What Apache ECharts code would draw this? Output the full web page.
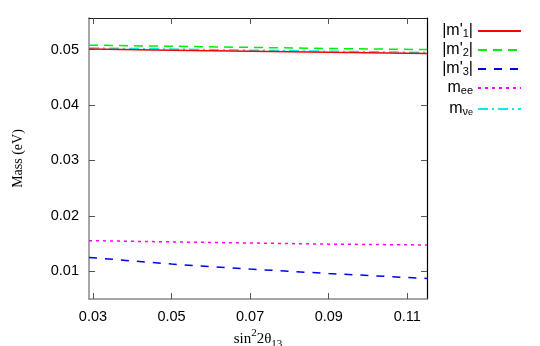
<!DOCTYPE html>
<html>
<head>
<meta charset="utf-8">
<script src="https://cdn.jsdelivr.net/npm/echarts@6/dist/echarts.min.js"></script>
<style>
  html, body { margin: 0; padding: 0; background: #fff; }
  #chart { width: 540px; height: 346px; }
</style>
</head>
<body>
<div id="chart"></div>
<script>
// sin^2(2 theta13) sample points
const xs = [0.029, 0.05, 0.07, 0.09, 0.115]
// masses in eV
const m1 = [0.0501, 0.0499, 0.0497, 0.0495, 0.0493]
const m2 = [0.0508, 0.0506, 0.0504, 0.0502, 0.0500]
const m3 = [0.0125, 0.0113, 0.0104, 0.0096, 0.0087]
const mee = [0.01553, 0.0153, 0.0151, 0.0149, 0.01474]
const mnue = [0.0503, 0.0501, 0.0499, 0.0497, 0.0495]
const xTicks = [0.03, 0.05, 0.07, 0.09, 0.11]
const yTicks = [0.01, 0.02, 0.03, 0.04, 0.05]

const pts = arr => xs.map((x, i) => [x, arr[i]])
const chart = echarts.init(document.getElementById('chart'))

const mkLine = (name, data, color, type, z) => ({
  name, type: 'line', data: pts(data), symbol: 'none', z,
  lineStyle: { color, width: 1.5, type },
  itemStyle: { color }
})

chart.setOption({
  animation: false,
  grid: { left: 89, right: 113, top: 18, bottom: 47, outerBoundsMode: 'none' },
  legend: {
    orient: 'vertical', right: 18, top: 21, align: 'right', padding: 0,
    itemWidth: 43, itemHeight: 14, itemGap: 1,
    itemStyle: { opacity: 0 },
    data: ['m1', 'm2', 'm3', 'mee', 'mnue'],
    formatter: n => ({
      m1: "{m||m'}{s|1}{m||}",
      m2: "{m||m'}{s|2}{m||}",
      m3: "{m||m'}{s|3}{m||}",
      mee: '{m|m}{s|ee}',
      mnue: '{m|m}{s|ν}{ss|e}'
    })[n],
    textStyle: {
      fontFamily: 'Liberation Sans', color: '#000',
      rich: {
        m: { fontSize: 16, fontFamily: 'Liberation Sans', lineHeight: 16, verticalAlign: 'top' },
        s: { fontSize: 11, fontFamily: 'Liberation Sans', verticalAlign: 'bottom', lineHeight: 12, padding: [7, 0, 0, 0] },
        ss: { fontSize: 9, fontFamily: 'Liberation Sans', verticalAlign: 'bottom', lineHeight: 8, padding: [11, 0, 0, 0] }
      }
    }
  },
  xAxis: [{
    type: 'value', min: 0.029, max: 0.115,
    name: '{t|sin}{sup|2}{t|2θ}{sub|13}', nameLocation: 'middle', nameGap: 29,
    nameMoveOverlap: false,
    nameTextStyle: {
      color: '#000',
      rich: {
        t: { fontFamily: 'Liberation Serif', fontSize: 15, verticalAlign: 'middle', lineHeight: 22 },
        sup: { fontFamily: 'Liberation Serif', fontSize: 11, verticalAlign: 'top', lineHeight: 11 },
        sub: { fontFamily: 'Liberation Serif', fontSize: 11, verticalAlign: 'bottom', lineHeight: 11 }
      }
    },
    axisLine: { onZero: false, lineStyle: { color: '#888', width: 1.5 } },
    axisTick: { inside: true, length: 6, customValues: xTicks, lineStyle: { color: '#555' } },
    axisLabel: { customValues: xTicks, formatter: v => v.toFixed(2), color: '#000', fontSize: 14.5, fontFamily: 'Liberation Sans', margin: 10 },
    splitLine: { show: false }
  }, {
    type: 'value', position: 'top', min: 0.029, max: 0.115,
    axisLine: { onZero: false, lineStyle: { color: '#222', width: 1 } },
    axisTick: { inside: true, length: 6, customValues: xTicks, lineStyle: { color: '#555' } },
    axisLabel: { show: false }, splitLine: { show: false }
  }],
  yAxis: [{
    type: 'value', min: 0.005, max: 0.0557,
    name: 'Mass (eV)', nameLocation: 'middle', nameGap: 64,
    nameTextStyle: { fontFamily: 'Liberation Serif', fontSize: 14, color: '#000' },
    axisLine: { show: true, onZero: false, lineStyle: { color: '#888', width: 1.5 } },
    axisTick: { show: true, inside: true, length: 6, customValues: yTicks, lineStyle: { color: '#555' } },
    axisLabel: { customValues: yTicks, formatter: v => v.toFixed(2), color: '#000', fontSize: 14.5, fontFamily: 'Liberation Sans', margin: 10 },
    splitLine: { show: false }
  }, {
    type: 'value', position: 'right', min: 0.005, max: 0.0557,
    axisLine: { show: true, onZero: false, lineStyle: { color: '#000', width: 1.2 } },
    axisTick: { show: true, inside: true, length: 6, customValues: yTicks, lineStyle: { color: '#555' } },
    axisLabel: { show: false }, splitLine: { show: false }
  }],
  series: [
    mkLine('m1', m1, '#ff0000', 'solid', 5),
    mkLine('m2', m2, '#00ee00', [9, 6], 3),
    mkLine('m3', m3, '#0000ee', [8, 8], 3),
    mkLine('mee', mee, '#ff00ff', [3, 4], 3),
    mkLine('mnue', mnue, '#00eeee', [10, 4, 2, 4], 4)
  ]
})
</script>
</body>
</html>
